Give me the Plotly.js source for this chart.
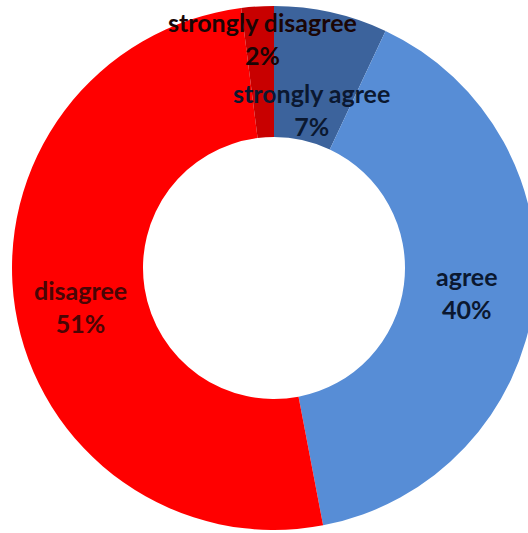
<!DOCTYPE html>
<html>
<head>
<meta charset="utf-8">
<script src="https://cdn.plot.ly/plotly-3.0.1.min.js"></script>
<style>
html,body{margin:0;padding:0;overflow:hidden;background:#fff;}
#chart{width:540px;height:533px;}
</style>
</head>
<body>
<div id="chart"></div>
<script>
// Data
const categories = ["strongly agree", "agree", "disagree", "strongly disagree"];
const percents = [7, 40, 51, 2];
const sliceColors = ["#3C639C", "#578DD6", "#FF0000", "#C80000"];
const labelColors = ["#0B1830", "#0B1830", "#4A0505", "#1A0505"];
// label centres in pixels (layout only)
const labelPos = [[311, 109], [467, 292], [80, 306], [262, 39]];

const W = 540, H = 533;
const cx = 274, cy = 268, R = 262;

const trace = {
  type: "pie",
  labels: categories,
  values: percents,
  hole: 0.5,
  sort: false,
  direction: "clockwise",
  rotation: 0,
  textinfo: "none",
  hoverinfo: "label+percent",
  marker: {colors: sliceColors, line: {width: 0}},
  domain: {
    x: [(cx - R) / W, (cx + R) / W],
    y: [1 - (cy + R) / H, 1 - (cy - R) / H]
  },
  showlegend: false
};

const annotations = categories.map((c, i) => ({
  xref: "paper", yref: "paper",
  x: labelPos[i][0] / W,
  y: 1 - labelPos[i][1] / H,
  xanchor: "center", yanchor: "middle",
  text: "<b>" + c + "<br>" + percents[i] + "%</b>",
  showarrow: false,
  align: "center",
  font: {family: "Lato, 'Open Sans', sans-serif", size: 25, color: labelColors[i]}
}));

const layout = {
  width: W, height: H,
  margin: {l: 0, r: 0, t: 0, b: 0},
  paper_bgcolor: "#ffffff",
  plot_bgcolor: "#ffffff",
  showlegend: false,
  annotations: annotations
};

Plotly.newPlot("chart", [trace], layout, {displayModeBar: false, staticPlot: true});
</script>
</body>
</html>
